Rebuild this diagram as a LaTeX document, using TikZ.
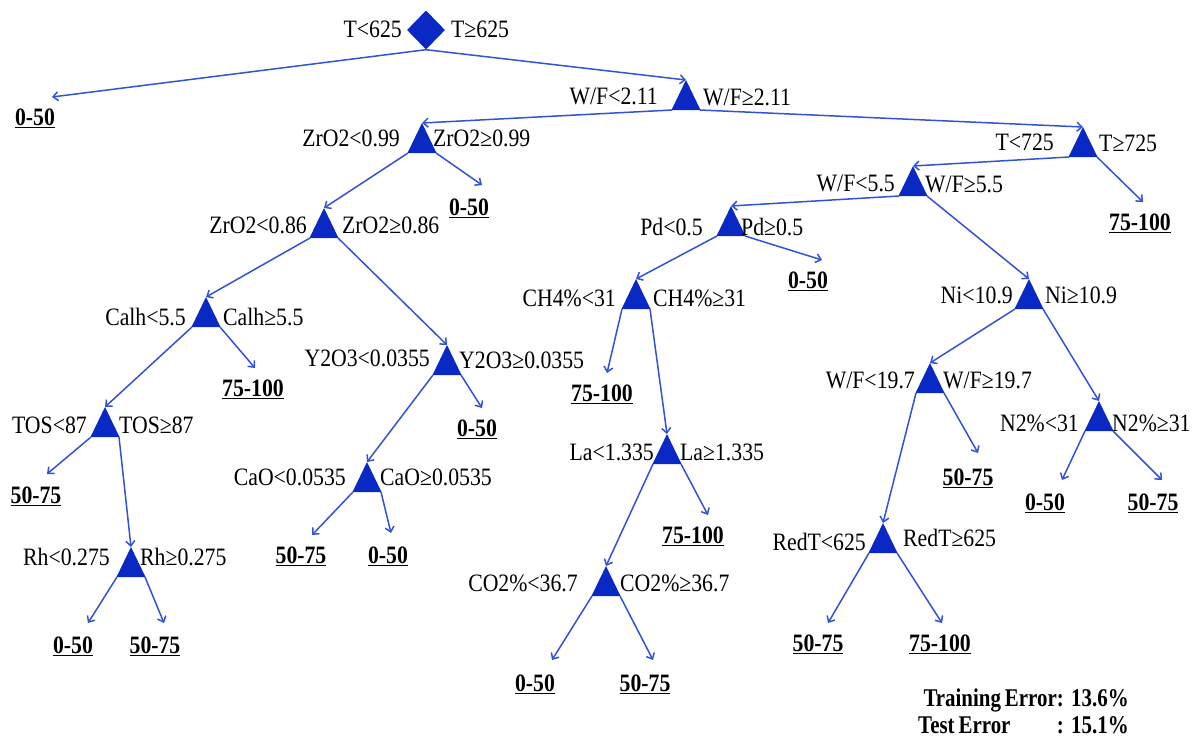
\documentclass[tikz,border=0pt]{standalone}
\usepackage{fontspec}
\setmainfont{Liberation Serif}[FakeStretch=0.87]
\newfontfamily\errfont{Liberation Serif}[FakeStretch=0.82]
\usetikzlibrary{arrows.meta,shapes.geometric}
\definecolor{edgeblue}{RGB}{50,82,215}
\definecolor{splitfill}{RGB}{10,40,195}
\tikzset{
  split/.pic={
    \fill[splitfill] (0,0) -- (-14.5,30) -- (14.5,30) -- cycle;
    \coordinate (-top) at (0,0);
    \coordinate (-l) at (-14,30);
    \coordinate (-r) at (14,30);
  },
  rootsplit/.style={diamond, fill=splitfill, minimum width=38pt, minimum height=39pt, inner sep=0pt},
  cond/.style={inner sep=0pt, text height=16.5pt, text depth=0pt, font=\fontsize{25}{30}\selectfont},
  leaf/.style={inner sep=0pt, text height=16.5pt, text depth=0pt, font=\fontsize{25}{30}\selectfont\bfseries},
  link/.style={draw=edgeblue, line width=1.5pt, -{Straight Barb[length=5pt,width=9pt]}},
  errtext/.style={inner sep=0pt, font=\errfont\fontsize{25.5}{30}\selectfont\bfseries},
}
\begin{document}
\begin{tikzpicture}[x=1pt,y=-1pt]
\useasboundingbox (0,0) rectangle (1204,740);

% ---- split nodes ----
\node[rootsplit] (root) at (426,30) {};
\path (686,80) pic (wf2) {split};
\path (422,123) pic (zr99) {split};
\path (1083,127) pic (t725) {split};
\path (324,208) pic (zr86) {split};
\path (913,166) pic (wf55) {split};
\path (731,206) pic (pd) {split};
\path (206,297) pic (calh) {split};
\path (1029,279) pic (ni) {split};
\path (447,345) pic (y2o3) {split};
\path (636,279) pic (ch4) {split};
\path (930,363) pic (wf197) {split};
\path (1099,401) pic (n2) {split};
\path (105,407) pic (tos) {split};
\path (667,434) pic (la) {split};
\path (367,462) pic (cao) {split};
\path (131,547) pic (rh) {split};
\path (883,523) pic (redt) {split};
\path (606,566) pic (co2) {split};

% ---- split conditions ----
\node[cond, anchor=east] (root-a) at (402,29) {T<625};
\node[cond, anchor=west] (root-b) at (451,29) {T≥625};
\node[cond, anchor=east] (wf2-a) at (658,96) {W/F<2.11};
\node[cond, anchor=west] (wf2-b) at (703,97) {W/F≥2.11};
\node[cond, anchor=east] (zr99-a) at (400,138) {ZrO2<0.99};
\node[cond, anchor=west] (zr99-b) at (433,138) {ZrO2≥0.99};
\node[cond, anchor=east] (t725-a) at (1054,142) {T<725};
\node[cond, anchor=west] (t725-b) at (1099,143) {T≥725};
\node[cond, anchor=east] (zr86-a) at (307,225) {ZrO2<0.86};
\node[cond, anchor=west] (zr86-b) at (342,225) {ZrO2≥0.86};
\node[cond, anchor=east] (wf55-a) at (895,183) {W/F<5.5};
\node[cond, anchor=west] (wf55-b) at (925,184) {W/F≥5.5};
\node[cond, anchor=east] (pd-a) at (703,227) {Pd<0.5};
\node[cond, anchor=west] (pd-b) at (741,227) {Pd≥0.5};
\node[cond, anchor=east] (calh-a) at (186,317) {Calh<5.5};
\node[cond, anchor=west] (calh-b) at (223,317) {Calh≥5.5};
\node[cond, anchor=east] (ni-a) at (1013,295) {Ni<10.9};
\node[cond, anchor=west] (ni-b) at (1045,295) {Ni≥10.9};
\node[cond, anchor=east] (y2o3-a) at (430,358) {Y2O3<0.0355};
\node[cond, anchor=west] (y2o3-b) at (459,360) {Y2O3≥0.0355};
\node[cond, anchor=east] (ch4-a) at (616,298) {CH4\%<31};
\node[cond, anchor=west] (ch4-b) at (653,298) {CH4\%≥31};
\node[cond, anchor=east] (wf197-a) at (915,380) {W/F<19.7};
\node[cond, anchor=west] (wf197-b) at (943,380) {W/F≥19.7};
\node[cond, anchor=east] (n2-a) at (1079,423) {N2\%<31};
\node[cond, anchor=west] (n2-b) at (1112,423) {N2\%≥31};
\node[cond, anchor=east] (tos-a) at (87,425) {TOS<87};
\node[cond, anchor=west] (tos-b) at (119,425) {TOS≥87};
\node[cond, anchor=east] (la-a) at (654,452) {La<1.335};
\node[cond, anchor=west] (la-b) at (680,452) {La≥1.335};
\node[cond, anchor=east] (cao-a) at (346,477) {CaO<0.0535};
\node[cond, anchor=west] (cao-b) at (380,477) {CaO≥0.0535};
\node[cond, anchor=east] (rh-a) at (110,557) {Rh<0.275};
\node[cond, anchor=west] (rh-b) at (140,557) {Rh≥0.275};
\node[cond, anchor=east] (redt-a) at (866,542) {RedT<625};
\node[cond, anchor=west] (redt-b) at (903,538) {RedT≥625};
\node[cond, anchor=east] (co2-a) at (578,583) {CO2\%<36.7};
\node[cond, anchor=west] (co2-b) at (620,583) {CO2\%≥36.7};

% ---- leaves ----
\node[leaf] (root-out) at (35,117) {\underline{0-50}};
\node[leaf] (zr99-out) at (469,207) {\underline{0-50}};
\node[leaf] (t725-out) at (1140,222) {\underline{75-100}};
\node[leaf] (pd-out) at (808,280) {\underline{0-50}};
\node[leaf] (calh-out) at (253,388) {\underline{75-100}};
\node[leaf] (y2o3-out) at (477,428) {\underline{0-50}};
\node[leaf] (ch4-out) at (602,393) {\underline{75-100}};
\node[leaf] (tos-out) at (36,495) {\underline{50-75}};
\node[leaf] (cao-outl) at (301,555) {\underline{50-75}};
\node[leaf] (cao-outr) at (388,555) {\underline{0-50}};
\node[leaf] (la-out) at (693,535) {\underline{75-100}};
\node[leaf] (wf197-out) at (968,477) {\underline{50-75}};
\node[leaf] (n2-outl) at (1045,502) {\underline{0-50}};
\node[leaf] (n2-outr) at (1153,502) {\underline{50-75}};
\node[leaf] (rh-outl) at (73,645) {\underline{0-50}};
\node[leaf] (rh-outr) at (155,645) {\underline{50-75}};
\node[leaf] (redt-outl) at (818,643) {\underline{50-75}};
\node[leaf] (redt-outr) at (940,643) {\underline{75-100}};
\node[leaf] (co2-outl) at (535,683) {\underline{0-50}};
\node[leaf] (co2-outr) at (645,683) {\underline{50-75}};

% ---- arrow tips above the leaves ----
\coordinate (root-tip) at (52,97);
\coordinate (zr99-tip) at (482,185);
\coordinate (t725-tip) at (1143,202);
\coordinate (pd-tip) at (822,260);
\coordinate (calh-tip) at (255,368);
\coordinate (y2o3-tip) at (482,408);
\coordinate (ch4-tip) at (607,373);
\coordinate (tos-tip) at (47,474);
\coordinate (cao-tipl) at (312,535);
\coordinate (cao-tipr) at (391,533);
\coordinate (la-tip) at (708,515);
\coordinate (wf197-tip) at (978,453);
\coordinate (n2-tipl) at (1062,480);
\coordinate (n2-tipr) at (1162,480);
\coordinate (rh-tipl) at (88,623);
\coordinate (rh-tipr) at (164,623);
\coordinate (redt-tipl) at (828,623);
\coordinate (redt-tipr) at (942,623);
\coordinate (co2-tipl) at (552,660);
\coordinate (co2-tipr) at (653,660);

% ---- connectors ----
\draw[link] (root.south) -- (wf2-top);
\draw[link] (root.south) -- (root-tip);
\draw[link] (wf2-l) -- (zr99-top);
\draw[link] (wf2-r) -- (t725-top);
\draw[link] (zr99-l) -- (zr86-top);
\draw[link] (zr99-r) -- (zr99-tip);
\draw[link] (t725-l) -- (wf55-top);
\draw[link] (t725-r) -- (t725-tip);
\draw[link] (zr86-l) -- (calh-top);
\draw[link] (zr86-r) -- (y2o3-top);
\draw[link] (wf55-l) -- (pd-top);
\draw[link] (wf55-r) -- (ni-top);
\draw[link] (pd-l) -- (ch4-top);
\draw[link] (pd-r) -- (pd-tip);
\draw[link] (calh-l) -- (tos-top);
\draw[link] (calh-r) -- (calh-tip);
\draw[link] (y2o3-l) -- (cao-top);
\draw[link] (y2o3-r) -- (y2o3-tip);
\draw[link] (ch4-l) -- (ch4-tip);
\draw[link] (ch4-r) -- (la-top);
\draw[link] (ni-l) -- (wf197-top);
\draw[link] (ni-r) -- (n2-top);
\draw[link] (tos-l) -- (tos-tip);
\draw[link] (tos-r) -- (rh-top);
\draw[link] (cao-l) -- (cao-tipl);
\draw[link] (cao-r) -- (cao-tipr);
\draw[link] (la-l) -- (co2-top);
\draw[link] (la-r) -- (la-tip);
\draw[link] (wf197-l) -- (redt-top);
\draw[link] (wf197-r) -- (wf197-tip);
\draw[link] (n2-l) -- (n2-tipl);
\draw[link] (n2-r) -- (n2-tipr);
\draw[link] (rh-l) -- (rh-tipl);
\draw[link] (rh-r) -- (rh-tipr);
\draw[link] (redt-l) -- (redt-tipl);
\draw[link] (redt-r) -- (redt-tipr);
\draw[link] (co2-l) -- (co2-tipl);
\draw[link] (co2-r) -- (co2-tipr);

% ---- error summary ----
\node[errtext, anchor=base east] (train-lab) at (1064,706) {Training\hspace{4pt}Error:};
\node[errtext, anchor=base west] (train-val) at (1071,706) {13.6\%};
\node[errtext, anchor=base west] (test-lab) at (918,733) {Test\hspace{4pt}Error};
\node[errtext, anchor=base east] (test-colon) at (1064,733) {:};
\node[errtext, anchor=base west] (test-val) at (1071,733) {15.1\%};
\end{tikzpicture}
\end{document}
